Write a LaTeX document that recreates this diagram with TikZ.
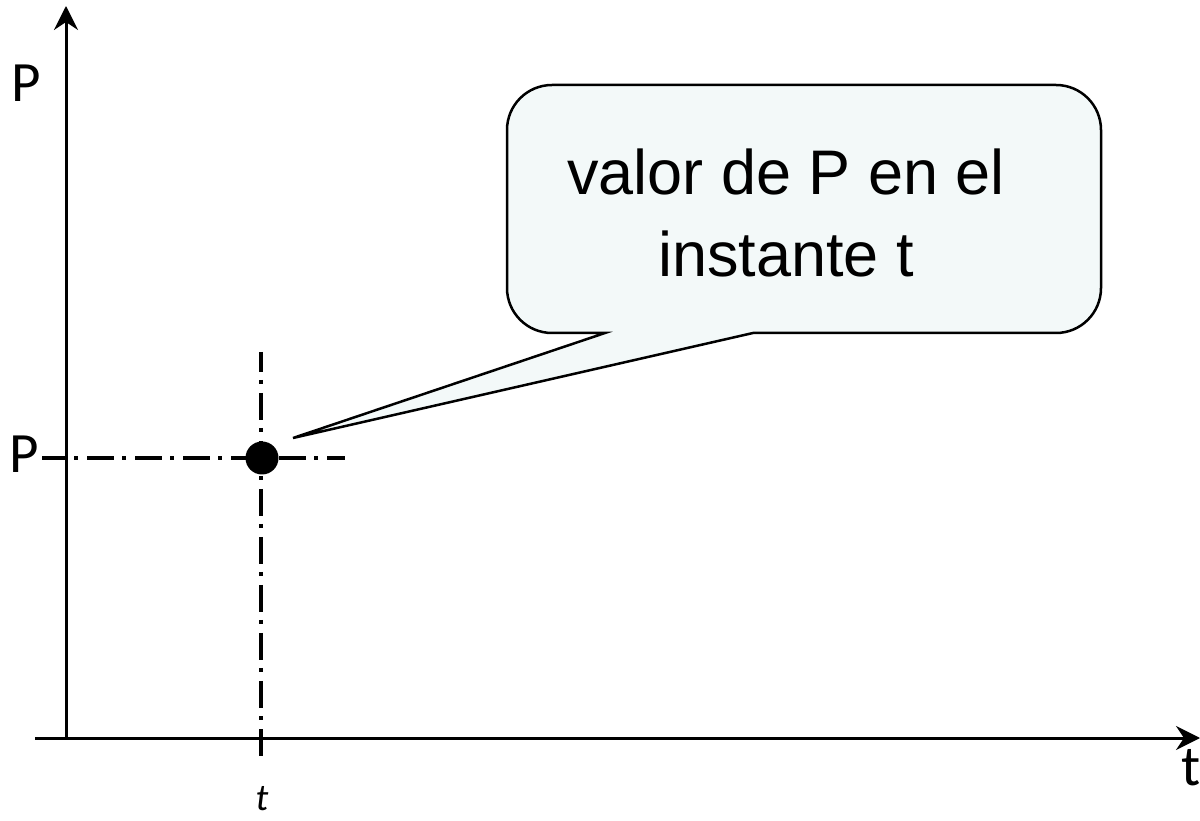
\documentclass[tikz,border=0pt]{standalone}
\usepackage{fontspec}
\setmainfont{Liberation Sans}
\newfontfamily\calib{Carlito}
\usetikzlibrary{arrows.meta}
\definecolor{calloutfill}{RGB}{243,249,249}
\tikzset{
  axis/.style={line width=3pt,-{Stealth[length=24pt,width=24pt,inset=8pt]}},
  dashdot/.style={line width=3.5pt,dash pattern=on 27pt off 8pt on 4pt off 9pt},
  callout/.style={draw=black,line width=2.5pt,fill=calloutfill,line join=miter},
  axlabel/.style={inner sep=0pt,font=\calib\fontsize{57}{60}\selectfont},
  dotnode/.style={circle,fill=black,inner sep=0pt,minimum size=33pt}
}
\begin{document}
\begin{tikzpicture}[x=1pt,y=1pt]
\useasboundingbox (0,0) rectangle (1200,820);
% named points
\coordinate (ybot) at (66,82);
\coordinate (ytop) at (66,814);
\coordinate (xl) at (35,82);
\coordinate (xr) at (1200,82);
\coordinate (hl) at (42,362);
\coordinate (hr) at (345,362);
\coordinate (vt) at (261,468);
\coordinate (vb) at (261,57);
% axes
\draw[axis] (ybot) -- (ytop);
\draw[axis] (xl) -- (xr);
% dash-dot guides
\draw[dashdot,dash phase=3pt] (hl) -- (hr);
\draw[dashdot,dash phase=7pt] (vt) -- (vb);
% point
\node[dotnode] (pt) at (262,362) {};
% labels
\node[axlabel,anchor=base west] (Ptop) at (11,718) {P};
\node[axlabel,anchor=base west] (Pmid) at (9,347) {P};
\node[axlabel,anchor=base west] (tright) at (1181,35) {t};
\node[inner sep=0pt,anchor=base,font=\calib\itshape\fontsize{38}{44}\selectfont] (tbot) at (262,10) {t};
% callout
\draw[callout] (605,487) -- (293,382) -- (753,487) -- (1056,487)
  arc[start angle=-90,end angle=0,radius=45pt] -- (1101,690)
  arc[start angle=0,end angle=90,radius=45pt] -- (552,735)
  arc[start angle=90,end angle=180,radius=45pt] -- (507,532)
  arc[start angle=180,end angle=270,radius=45pt] -- cycle;
\node[inner sep=0pt,align=center,font=\fontsize{63}{82}\selectfont] (ctext) at (786,607) {valor de P en el\\instante t};
\end{tikzpicture}
\end{document}
